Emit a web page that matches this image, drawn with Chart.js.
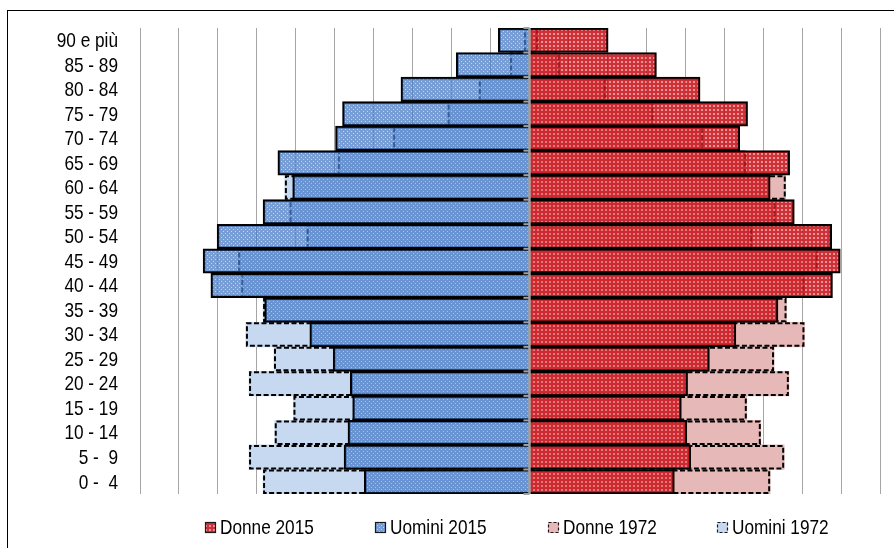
<!DOCTYPE html>
<html>
<head>
<meta charset="utf-8">
<script src="https://cdn.jsdelivr.net/npm/chart.js@4/dist/chart.umd.min.js"></script>
<style>
  html, body { margin: 0; padding: 0; background: #fff; }
  #wrap { position: relative; width: 894px; height: 548px; overflow: hidden; }
  #frame { position: absolute; left: 7px; top: 10px; width: 1000px; height: 1000px;
           border-left: 1px solid #000; border-top: 1px solid #000; pointer-events: none; }
  canvas { position: absolute; left: 0; top: 0; }
</style>
</head>
<body>
<div id="wrap">
  <canvas id="pyramid" width="894" height="548"></canvas>
  <div id="frame"></div>
</div>
<script>
// Age classes, youngest first
const ageGroups = ["0 -  4", "5 -  9", "10 - 14", "15 - 19", "20 - 24", "25 - 29", "30 - 34",
  "35 - 39", "40 - 44", "45 - 49", "50 - 54", "55 - 59", "60 - 64", "65 - 69", "70 - 74",
  "75 - 79", "80 - 84", "85 - 89", "90 e più"];

// Share of total population (%) per age class
const donne2015  = [1.86, 2.07, 2.02, 1.95, 2.03, 2.31, 2.65, 3.19, 3.89, 3.99, 3.88, 3.40, 3.09, 3.34, 2.70, 2.80, 2.19, 1.63, 1.01];
const uomini2015 = [2.12, 2.38, 2.33, 2.27, 2.30, 2.52, 2.82, 3.40, 4.09, 4.19, 4.01, 3.42, 3.04, 3.23, 2.49, 2.40, 1.65, 0.94, 0.40];
const donne1972  = [3.09, 3.27, 2.97, 2.79, 3.33, 3.14, 3.53, 3.30, 3.53, 3.70, 2.86, 3.16, 3.29, 2.78, 2.23, 1.59, 0.98, 0.39, 0.11];
const uomini1972 = [3.42, 3.60, 3.27, 3.03, 3.60, 3.28, 3.64, 3.42, 3.70, 3.74, 2.86, 3.08, 3.14, 2.46, 1.75, 1.05, 0.65, 0.25, 0.07];

const seriesLabels = ["Donne 2015", "Uomini 2015", "Donne 1972", "Uomini 1972"];

// Narrow sans text: Liberation Sans squeezed horizontally
const FONT = "21px 'Liberation Sans', Arial, sans-serif";
const SQUEEZE = 0.82;

function narrowText(ctx, text, x, y, align) {
  ctx.save();
  ctx.translate(x, y);
  ctx.scale(SQUEEZE, 1);
  ctx.font = FONT;
  ctx.textAlign = align;
  ctx.textBaseline = 'middle';
  ctx.fillText(text, 0, 0);
  ctx.restore();
}

// Small textured fills for the 2015 bars (semi-transparent, so the 1972 bars show through)
function makePattern(base, accent, kind) {
  const t = document.createElement('canvas');
  t.width = 4; t.height = 4;
  const g = t.getContext('2d');
  g.fillStyle = base;
  g.fillRect(0, 0, 4, 4);
  if (kind === 'grid') {
    g.clearRect(1, 1, 2, 2);
    g.fillStyle = accent;
    g.fillRect(1, 1, 2, 2);
  } else {
    g.clearRect(1, 1, 1, 1); g.clearRect(3, 3, 1, 1);
    g.fillStyle = accent;
    g.fillRect(1, 1, 1, 1); g.fillRect(3, 3, 1, 1);
  }
  return g.createPattern(t, 'repeat');
}
const redFill  = makePattern('rgba(200, 20, 28, 0.88)', 'rgba(222, 80, 84, 0.62)', 'grid');
const blueFill = makePattern('rgba(72, 124, 200, 0.74)', 'rgba(140, 178, 228, 0.55)', 'dots');

// Dashed outline for the 1972 bars (the bar element itself only supports solid borders)
const dashedOutline = {
  id: 'dashedOutline',
  afterDatasetDraw(chart, args) {
    const ds = chart.data.datasets[args.index];
    if (!ds.dashedOutline) return;
    const ctx = chart.ctx;
    ctx.save();
    ctx.setLineDash([5, 2.5]);
    ctx.lineWidth = 2;
    ctx.strokeStyle = '#000';
    args.meta.data.forEach(el => {
      const { x, y, base, height } = el.getProps(['x', 'y', 'base', 'height'], true);
      const top = y - height / 2 + 1, bottom = y + height / 2 - 1;
      const end = x > base ? x - 1 : x + 1;
      ctx.beginPath();
      ctx.moveTo(base, top);
      ctx.lineTo(end, top);
      ctx.lineTo(end, bottom);
      ctx.lineTo(base, bottom);
      ctx.stroke();
    });
    ctx.restore();
  }
};

// Central axis line, small tick marks between age classes, and the class labels
const centralAxis = {
  id: 'centralAxis',
  afterDatasetsDraw(chart) {
    const { ctx, chartArea, scales } = chart;
    const x0 = scales.x.getPixelForValue(0);
    const yScale = scales.y;
    const n = ageGroups.length;
    const step = Math.abs(yScale.getPixelForValue(0) - yScale.getPixelForValue(1));
    ctx.save();
    ctx.strokeStyle = '#a0a0a0';
    ctx.lineWidth = 2.5;
    ctx.beginPath();
    ctx.moveTo(x0, chartArea.top);
    ctx.lineTo(x0, chartArea.bottom);
    ctx.stroke();
    ctx.lineWidth = 2;
    for (let i = 0; i < n; i++) {
      const yy = yScale.getPixelForValue(i) + step / 2;
      ctx.beginPath();
      ctx.moveTo(x0 - 6, yy);
      ctx.lineTo(x0, yy);
      ctx.stroke();
    }
    ctx.beginPath();
    ctx.moveTo(x0 - 6, chartArea.top);
    ctx.lineTo(x0, chartArea.top);
    ctx.stroke();
    ctx.fillStyle = '#000';
    ageGroups.forEach((lab, i) => {
      narrowText(ctx, lab, chartArea.left - 22, yScale.getPixelForValue(i) + 1, 'right');
    });
    ctx.restore();
  }
};

// Legend row under the plot
const bottomLegend = {
  id: 'bottomLegend',
  afterDraw(chart) {
    const ctx = chart.ctx;
    const ds = chart.data.datasets;
    ctx.save();
    ctx.font = FONT;
    const box = 11, gapText = 4, gapItem = 61;
    const widths = ds.map(d => box + gapText + ctx.measureText(d.label).width * SQUEEZE);
    const total = widths.reduce((a, b) => a + b, 0) + gapItem * (ds.length - 1);
    let x = 517 - total / 2;
    const yc = 527;
    ds.forEach((d, i) => {
      const bx = Math.round(x), by = Math.round(yc - box / 2);
      ctx.fillStyle = '#fff';
      ctx.fillRect(bx, by, box, box);
      ctx.fillStyle = d.backgroundColor;
      ctx.fillRect(bx, by, box, box);
      ctx.lineWidth = 1.2;
      ctx.strokeStyle = '#1a1a1a';
      if (d.dashedOutline) ctx.setLineDash([3, 2]); else ctx.setLineDash([]);
      ctx.strokeRect(bx + 0.5, by + 0.5, box - 1, box - 1);
      ctx.setLineDash([]);
      ctx.fillStyle = '#000';
      narrowText(ctx, d.label, bx + box + gapText, yc + 1, 'left');
      x += widths[i] + gapItem;
    });
    ctx.restore();
  }
};

const common = { grouped: false, categoryPercentage: 1.0, barPercentage: 1.0 };

new Chart(document.getElementById('pyramid'), {
  type: 'bar',
  data: {
    labels: ageGroups,
    datasets: [
      { ...common, label: seriesLabels[0], data: donne2015,
        backgroundColor: redFill, borderColor: '#000', borderWidth: 2 },
      { ...common, label: seriesLabels[1], data: uomini2015.map(v => -v),
        backgroundColor: blueFill, borderColor: '#000', borderWidth: 2 },
      { ...common, label: seriesLabels[2], data: donne1972,
        backgroundColor: '#e6b9b8', borderWidth: 0, dashedOutline: true },
      { ...common, label: seriesLabels[3], data: uomini1972.map(v => -v),
        backgroundColor: '#c6d9f1', borderWidth: 0, dashedOutline: true }
    ]
  },
  options: {
    indexAxis: 'y',
    responsive: false,
    animation: false,
    devicePixelRatio: 1,
    layout: { padding: { top: 28, right: 14, bottom: 54, left: 0 } },
    plugins: { legend: { display: false }, tooltip: { enabled: false } },
    scales: {
      x: {
        type: 'linear',
        min: -5, max: 4.5,
        ticks: { display: false, stepSize: 0.5 },
        grid: { color: '#a6a6a6', lineWidth: 1, drawTicks: false },
        border: { display: false }
      },
      y: {
        type: 'category',
        reverse: true,
        grid: { display: false, drawTicks: false },
        border: { display: false },
        ticks: { display: false },
        afterFit(scale) { scale.width = 140; }
      }
    }
  },
  plugins: [dashedOutline, centralAxis, bottomLegend]
});
</script>
</body>
</html>
